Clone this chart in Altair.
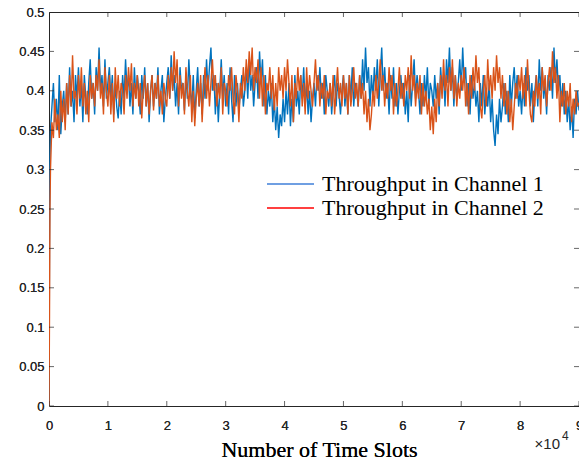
import altair as alt
import pandas as pd

# ---- data ----
ramp_slots = [0, 80, 160]
ch1_ramp = [0.0, 0.20, 0.31]
ch2_ramp = [0.0, 0.11, 0.25]

ch1_vals = [
    0.35, 0.38, 0.41, 0.36, 0.39, 0.35, 0.42, 0.345, 0.38, 0.40,
    0.36, 0.41, 0.37, 0.43, 0.38, 0.40, 0.36, 0.42, 0.39, 0.43,
    0.38, 0.41, 0.36, 0.42, 0.39, 0.37, 0.41, 0.44, 0.39, 0.41,
    0.37, 0.43, 0.40, 0.455, 0.40, 0.42, 0.38, 0.44, 0.39, 0.41,
    0.43, 0.39, 0.42, 0.37, 0.41, 0.38, 0.365, 0.40, 0.37, 0.42,
    0.39, 0.44, 0.40, 0.42, 0.38, 0.41, 0.37, 0.43, 0.39, 0.42,
    0.40, 0.37, 0.42, 0.39, 0.43, 0.38, 0.41, 0.36, 0.40, 0.42,
    0.38, 0.41, 0.39, 0.43, 0.37, 0.40, 0.42, 0.36, 0.39, 0.41,
    0.43, 0.39, 0.445, 0.40, 0.42, 0.38, 0.41, 0.37, 0.43, 0.40,
    0.41, 0.375, 0.42, 0.39, 0.44, 0.40, 0.38, 0.42, 0.365, 0.40,
    0.43, 0.38, 0.41, 0.37, 0.42, 0.39, 0.44, 0.40, 0.43, 0.455,
    0.40, 0.42, 0.37, 0.41, 0.36, 0.40, 0.44, 0.39, 0.42, 0.38,
    0.41, 0.37, 0.43, 0.39, 0.36, 0.42, 0.38, 0.41, 0.375, 0.40,
    0.42, 0.38, 0.40, 0.43, 0.39, 0.44, 0.40, 0.42, 0.38, 0.41,
    0.43, 0.39, 0.45, 0.41, 0.44, 0.38, 0.42, 0.37, 0.40, 0.38,
    0.41, 0.36, 0.39, 0.35, 0.38, 0.34, 0.37, 0.355, 0.39, 0.36,
    0.40, 0.37, 0.41, 0.355, 0.39, 0.36, 0.42, 0.38, 0.40, 0.37,
    0.42, 0.39, 0.43, 0.38, 0.41, 0.37, 0.40, 0.36, 0.39, 0.41,
    0.38, 0.42, 0.40, 0.43, 0.39, 0.41, 0.37, 0.42, 0.40, 0.38,
    0.41, 0.37, 0.40, 0.42, 0.38, 0.41, 0.395, 0.37, 0.40, 0.42,
    0.38, 0.41, 0.37, 0.42, 0.39, 0.43, 0.38, 0.41, 0.40, 0.38,
    0.42, 0.39, 0.44, 0.40, 0.455, 0.41, 0.43, 0.38, 0.42, 0.39,
    0.43, 0.40, 0.44, 0.38, 0.42, 0.455, 0.40, 0.43, 0.39, 0.41,
    0.37, 0.42, 0.39, 0.43, 0.38, 0.41, 0.37, 0.40, 0.42, 0.39,
    0.41, 0.37, 0.40, 0.36, 0.42, 0.38, 0.41, 0.44, 0.39, 0.42,
    0.40, 0.37, 0.41, 0.38, 0.42, 0.39, 0.43, 0.38, 0.41, 0.40,
    0.38, 0.42, 0.39, 0.41, 0.37, 0.43, 0.40, 0.42, 0.38, 0.44,
    0.41, 0.455, 0.40, 0.43, 0.38, 0.42, 0.39, 0.41, 0.44, 0.40,
    0.455, 0.41, 0.43, 0.38, 0.41, 0.37, 0.42, 0.39, 0.41, 0.38,
    0.40, 0.36, 0.41, 0.38, 0.42, 0.37, 0.40, 0.38, 0.41, 0.36,
    0.39, 0.35, 0.33, 0.37, 0.345, 0.39, 0.36, 0.38, 0.41, 0.37,
    0.40, 0.36, 0.42, 0.38, 0.41, 0.43, 0.39, 0.42, 0.38, 0.40,
    0.37, 0.41, 0.38, 0.43, 0.40, 0.42, 0.38, 0.41, 0.36, 0.40,
    0.42, 0.38, 0.44, 0.40, 0.43, 0.39, 0.41, 0.37, 0.42, 0.40,
    0.43, 0.39, 0.455, 0.41, 0.44, 0.40, 0.42, 0.38, 0.41, 0.37,
    0.40, 0.36, 0.39, 0.35, 0.38, 0.34, 0.39, 0.37, 0.40, 0.375,
]

ch2_vals = [
    0.30, 0.36, 0.34, 0.39, 0.35, 0.37, 0.34, 0.40, 0.36, 0.39,
    0.35, 0.41, 0.37, 0.42, 0.38, 0.445, 0.39, 0.40, 0.37, 0.42,
    0.39, 0.43, 0.38, 0.41, 0.37, 0.40, 0.36, 0.42, 0.39, 0.41,
    0.38, 0.42, 0.40, 0.44, 0.39, 0.41, 0.37, 0.43, 0.40, 0.38,
    0.42, 0.37, 0.41, 0.36, 0.43, 0.39, 0.42, 0.38, 0.41, 0.40,
    0.37, 0.42, 0.39, 0.43, 0.40, 0.435, 0.38, 0.41, 0.39, 0.42,
    0.38, 0.41, 0.365, 0.40, 0.42, 0.38, 0.41, 0.37, 0.40, 0.42,
    0.375, 0.41, 0.39, 0.42, 0.38, 0.40, 0.37, 0.41, 0.39, 0.38,
    0.42, 0.39, 0.43, 0.40, 0.45, 0.41, 0.44, 0.38, 0.42, 0.39,
    0.41, 0.37, 0.43, 0.40, 0.38, 0.42, 0.36, 0.40, 0.355, 0.39,
    0.41, 0.38, 0.42, 0.36, 0.40, 0.43, 0.39, 0.42, 0.38, 0.41,
    0.44, 0.40, 0.42, 0.38, 0.41, 0.39, 0.43, 0.37, 0.41, 0.40,
    0.38, 0.42, 0.40, 0.43, 0.39, 0.37, 0.42, 0.40, 0.36, 0.41,
    0.39, 0.43, 0.40, 0.44, 0.41, 0.45, 0.42, 0.455, 0.40, 0.43,
    0.41, 0.44, 0.39, 0.43, 0.38, 0.42, 0.37, 0.41, 0.40, 0.43,
    0.39, 0.42, 0.375, 0.41, 0.38, 0.43, 0.40, 0.42, 0.39, 0.43,
    0.40, 0.44, 0.41, 0.38, 0.42, 0.36, 0.41, 0.39, 0.43, 0.40,
    0.42, 0.38, 0.41, 0.37, 0.43, 0.39, 0.42, 0.40, 0.38, 0.41,
    0.44, 0.40, 0.42, 0.38, 0.41, 0.39, 0.42, 0.37, 0.40, 0.39,
    0.41, 0.38, 0.42, 0.37, 0.40, 0.43, 0.39, 0.41, 0.38, 0.42,
    0.39, 0.41, 0.37, 0.42, 0.38, 0.40, 0.43, 0.39, 0.41, 0.38,
    0.42, 0.39, 0.41, 0.37, 0.40, 0.36, 0.39, 0.35, 0.37, 0.40,
    0.38, 0.42, 0.39, 0.41, 0.44, 0.40, 0.42, 0.38, 0.41, 0.39,
    0.43, 0.40, 0.42, 0.37, 0.41, 0.38, 0.40, 0.43, 0.39, 0.41,
    0.38, 0.42, 0.40, 0.43, 0.39, 0.445, 0.40, 0.42, 0.38, 0.41,
    0.39, 0.42, 0.37, 0.41, 0.38, 0.40, 0.37, 0.39, 0.35, 0.38,
    0.345, 0.39, 0.36, 0.41, 0.38, 0.42, 0.39, 0.44, 0.40, 0.42,
    0.38, 0.43, 0.40, 0.44, 0.39, 0.42, 0.38, 0.41, 0.39, 0.42,
    0.40, 0.43, 0.38, 0.41, 0.37, 0.42, 0.39, 0.43, 0.40, 0.445,
    0.41, 0.43, 0.38, 0.365, 0.40, 0.42, 0.38, 0.44, 0.40, 0.42,
    0.39, 0.43, 0.40, 0.445, 0.41, 0.43, 0.39, 0.42, 0.38, 0.41,
    0.37, 0.40, 0.36, 0.39, 0.35, 0.38, 0.41, 0.39, 0.42, 0.40,
    0.43, 0.39, 0.42, 0.38, 0.44, 0.40, 0.37, 0.36, 0.40, 0.38,
    0.42, 0.39, 0.41, 0.37, 0.43, 0.40, 0.42, 0.38, 0.41, 0.43,
    0.40, 0.45, 0.41, 0.43, 0.39, 0.42, 0.36, 0.40, 0.38, 0.41,
    0.37, 0.40, 0.38, 0.41, 0.36, 0.39, 0.37, 0.40, 0.38, 0.385,
]

step_slots = list(range(250, 90001, 250))

series_names = ["Throughput in Channel 1", "Throughput in Channel 2"]
line_colors = ["#0072BD", "#D95319"]
legend_colors = ["#3F7FD8", "#FF0000"]

x_ticks = list(range(0, 90001, 10000))
y_ticks = [0, 0.05, 0.1, 0.15, 0.2, 0.25, 0.3, 0.35, 0.4, 0.45, 0.5]

slots = ramp_slots + step_slots
df = pd.concat([
    pd.DataFrame({"slot": slots, "value": ch1_ramp + ch1_vals, "series": series_names[0]}),
    pd.DataFrame({"slot": slots, "value": ch2_ramp + ch2_vals, "series": series_names[1]}),
])
xt_df = pd.DataFrame({"slot": x_ticks})
yt_df = pd.DataFrame({"value": y_ticks})

W, H = 530, 394
tick_color = "#262626"
sans = "Liberation Sans"
serif = "Liberation Serif"

x_scale = alt.Scale(domain=[0, 90000], nice=False, zero=False)
y_scale = alt.Scale(domain=[0, 0.5], nice=False)

x_bottom = alt.X(
    "slot:Q", scale=x_scale,
    axis=alt.Axis(
        orient="bottom", values=x_ticks, labelExpr="datum.value / 10000",
        ticks=False, tickSize=0, domain=False, grid=False, labelFlush=False,
        labelPadding=13, labelFont=sans, labelFontSize=13, labelColor=tick_color,
        title="Number of Time Slots", titleFont=serif, titleFontSize=22,
        titleFontWeight="normal", titleColor="black", titlePadding=7, titleX=270,
    ),
)
y_left = alt.Y(
    "value:Q", scale=y_scale,
    axis=alt.Axis(
        orient="left", values=y_ticks, format=".2~f",
        ticks=False, tickSize=0, domain=False, grid=False, labelFlush=False,
        labelPadding=5, labelFont=sans, labelFontSize=13, labelColor=tick_color,
        title=None,
    ),
)

lines = []
for name, col in zip(series_names, line_colors):
    lines.append(
        alt.Chart(df[df["series"] == name]).mark_line(
            color=col, strokeWidth=1.4, clip=True
        ).encode(x=x_bottom, y=y_left, order="slot:Q")
    )

# Inward box ticks: half of each tick is clipped away by the frame
tick_layers = []
for yv in [0, H]:
    tick_layers.append(
        alt.Chart(xt_df).mark_tick(color=tick_color, size=10, thickness=1, clip=True,
                                   orient="vertical").encode(
            x=alt.X("slot:Q", scale=x_scale, axis=None), y=alt.value(yv)
        )
    )
for xv in [0, W]:
    tick_layers.append(
        alt.Chart(yt_df).mark_tick(color=tick_color, size=10, thickness=1, clip=True,
                                   orient="horizontal").encode(
            y=alt.Y("value:Q", scale=y_scale, axis=None), x=alt.value(xv)
        )
    )

# Legend layer (invisible lines, visible legend symbols)
legend_layer = alt.Chart(df).mark_line(opacity=0).encode(
    x=alt.X("slot:Q", scale=x_scale, axis=None),
    y=alt.Y("value:Q", scale=y_scale, axis=None),
    color=alt.Color(
        "series:N",
        scale=alt.Scale(domain=series_names, range=legend_colors),
        legend=alt.Legend(
            title=None, orient="none", legendX=217, legendY=160,
            symbolType="stroke", symbolSize=2209, symbolStrokeWidth=1.5,
            symbolOpacity=1, labelFont=serif, labelFontSize=22, labelColor="black",
            labelOffset=7, rowPadding=0, clipHeight=24, labelLimit=400,
        ),
    ),
)

exp_df = pd.DataFrame({"t": ["×10"], "e": ["4"]})
exp_base = alt.Chart(exp_df)
exp_text = exp_base.mark_text(
    align="right", baseline="alphabetic", font=sans, fontSize=15, color=tick_color
).encode(text="t:N", x=alt.value(W - 19), y=alt.value(H + 43))
exp_sup = exp_base.mark_text(
    align="left", baseline="alphabetic", font=sans, fontSize=12, color=tick_color
).encode(text="e:N", x=alt.value(W - 17), y=alt.value(H + 34))

chart = alt.layer(
    lines[0], lines[1], *tick_layers, legend_layer, exp_text, exp_sup
).resolve_axis(x="independent", y="independent").properties(
    width=W, height=H,
    padding={"left": 49, "top": 12, "right": 0, "bottom": 57},
    autosize="none",
    background="white",
).configure_view(stroke="#262626", strokeWidth=1)

chart.save("out.html", embed_options={"renderer": "svg", "actions": False})
